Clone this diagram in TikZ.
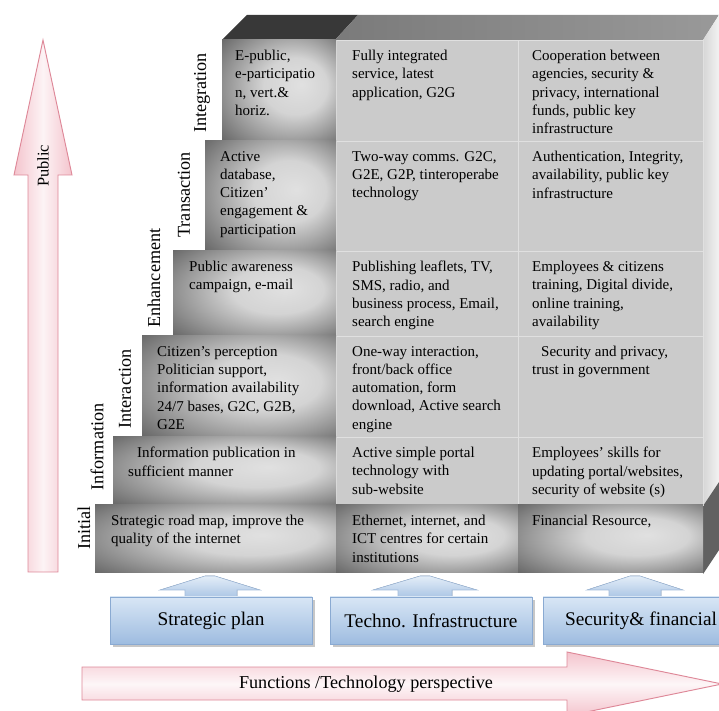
\documentclass[tikz,border=0pt]{standalone}
\usepackage{fontspec}
\setmainfont{Liberation Serif}
\usepackage{tikz}
\usetikzlibrary{calc}
\usepackage{xcolor}

\definecolor{pinkline}{RGB}{222,136,152}
\definecolor{pinkfill}{RGB}{244,196,205}
\definecolor{blueline}{RGB}{138,170,210}
\definecolor{bluetop}{RGB}{216,230,245}
\definecolor{bluebot}{RGB}{158,188,224}
\definecolor{cellgray}{RGB}{203,203,203}

\pgfdeclareradialshading{cellshade}{\pgfpoint{10bp}{3bp}}{color(0bp)=(black!12); color(14bp)=(black!17); color(28bp)=(black!42); color(40bp)=(black!64); color(50bp)=(black!66)}

\tikzset{
  celltext/.style={anchor=north west, align=left, inner sep=0pt, font=\fontsize{12.8}{15.6}\selectfont},
  stagelabel/.style={rotate=90, inner sep=0pt, font=\fontsize{15.5}{18}\selectfont},
  darkcell/.style={shading=cellshade},
  litecell/.style={fill=cellgray, draw=black!12, line width=0.6pt},
  bluebox/.style={top color=bluetop, bottom color=bluebot, draw=blueline, line width=0.6pt},
  bluearrow/.style={top color=bluetop!70!white, bottom color=bluebot!80!bluetop, draw=blueline!80!white, line width=0.5pt},
  pinkarrow/.style={draw=pinkline, line width=0.8pt},
  boxtext/.style={font=\fontsize{16.5}{19}\selectfont},
}

\begin{document}
\begin{tikzpicture}[x=0.03cm,y=-0.03cm]
\useasboundingbox (0,0) rectangle (719,711);

% pink arrows
\shade[pinkarrow, left color=pinkfill, right color=pinkfill, middle color=white!80!pinkfill]
  (28,572) -- (28,175) -- (14,175) -- (43,40) -- (72,175) -- (58,175) -- (58,572) -- cycle;
\node[rotate=90, font=\fontsize{14}{16}\selectfont] (public) at (43,166) {Public};

\shade[pinkarrow, top color=pinkfill, bottom color=pinkfill, middle color=white!85!pinkfill]
  (82,667) -- (567,667) -- (567,652) -- (722,684) -- (567,716) -- (567,700) -- (82,700) -- cycle;
\node[font=\fontsize{15.5}{18}\selectfont] (funcs) at (366,684) {Functions /Technology perspective};

% top and side of the block
\fill[black!78] (222,40) -- (247,15) -- (358,15) -- (335,40) -- cycle;
\shade[left color=black!52, right color=black!40] (335,40) -- (358,15) -- (719,15) -- (703,40) -- cycle;
\shade[left color=black!16, right color=black!5] (703,40) -- (719,15) -- (719,550) -- (703,574) -- cycle;
\fill[black!62] (703,506) -- (719,482) -- (719,550) -- (703,574) -- cycle;

% light cells
\filldraw[litecell] (336,40) rectangle (518,141);
\filldraw[litecell] (518,40) rectangle (703,141);
\filldraw[litecell] (336,141) rectangle (518,251);
\filldraw[litecell] (518,141) rectangle (703,251);
\filldraw[litecell] (336,251) rectangle (518,336);
\filldraw[litecell] (518,251) rectangle (703,336);
\filldraw[litecell] (336,336) rectangle (518,437);
\filldraw[litecell] (518,336) rectangle (703,437);
\filldraw[litecell] (336,437) rectangle (518,505);
\filldraw[litecell] (518,437) rectangle (703,505);

% dark cells
\shade[darkcell] (222,40) rectangle (336,141);
\shade[darkcell] (205,141) rectangle (336,251);
\shade[darkcell] (173,251) rectangle (336,336);
\shade[darkcell] (142,336) rectangle (336,437);
\shade[darkcell] (113,437) rectangle (336,505);
\shade[darkcell] (95,505) rectangle (336,573);
\shade[darkcell] (336,505) rectangle (518,573);
\shade[darkcell] (518,505) rectangle (703,573);

% stage labels
\node[stagelabel] (lint) at (202,93) {Integration};
\node[stagelabel] (ltra) at (184,195) {Transaction};
\node[stagelabel] (lenh) at (154,278) {Enhancement};
\node[stagelabel] (linter) at (125,389) {Interaction};
\node[stagelabel] (linfo) at (97,447) {Information};
\node[stagelabel] (lini) at (84,528) {Initial};

% first column
\node[celltext] (int1) at (235,50) {E-public,\\e-participatio\\n, vert.\&\\horiz.};
\node[celltext] (tra1) at (220,151) {Active\\database,\\Citizen'\\engagement \&\\participation};
\node[celltext] (enh1) at (189,261) {Public awareness\\campaign, e-mail};
\node[celltext] (inter1) at (157,346) {Citizen's perception\\Politician support,\\information availability\\24/7 bases, G2C, G2B,\\G2E};
\node[celltext] (info1) at (128,447) {\hspace*{0.6em}Information publication in\\sufficient manner};
\node[celltext] (ini1) at (111,515) {Strategic road map, improve the\\quality of the internet};

% second column
\node[celltext] (int2) at (352,50) {Fully integrated\\service, latest\\application, G2G};
\node[celltext] (tra2) at (352,151) {Two-way comms. G2C,\\G2E, G2P, tinteroperabe\\technology};
\node[celltext] (enh2) at (352,261) {Publishing leaflets, TV,\\SMS, radio, and\\business process, Email,\\search engine};
\node[celltext] (inter2) at (352,346) {One-way interaction,\\front/back office\\automation, form\\download, Active search\\engine};
\node[celltext] (info2) at (352,447) {Active simple portal\\technology with\\sub-website};
\node[celltext] (ini2) at (352,515) {Ethernet, internet, and\\ICT centres for certain\\institutions};

% third column
\node[celltext] (int3) at (532,50) {Cooperation between\\agencies, security \&\\privacy, international\\funds, public key\\infrastructure};
\node[celltext] (tra3) at (532,151) {Authentication, Integrity,\\availability, public key\\infrastructure};
\node[celltext] (enh3) at (532,261) {Employees \& citizens\\training, Digital divide,\\online training,\\availability};
\node[celltext] (inter3) at (532,346) {\hspace*{0.6em}Security and privacy,\\trust in government};
\node[celltext] (info3) at (532,447) {Employees' skills for\\updating portal/websites,\\security of website (s)};
\node[celltext] (ini3) at (532,515) {Financial Resource,};

% blue arrows and boxes
\filldraw[bluearrow] (160,590) -- (205,576) -- (215,576) -- (260,590) -- (237,590) -- (237,598) -- (185,598) -- (185,590) -- cycle;
\filldraw[bluearrow] (373,590) -- (420,576) -- (430,576) -- (477,590) -- (452,590) -- (452,598) -- (398,598) -- (398,590) -- cycle;
\filldraw[bluearrow] (587,590) -- (630,576) -- (640,576) -- (683,590) -- (661,590) -- (661,598) -- (609,598) -- (609,590) -- cycle;

\fill[black!22] (113,600) rectangle (315,647);
\fill[black!22] (333,600) rectangle (535,647);
\fill[black!22] (546,600) rectangle (722,647);
\filldraw[bluebox] (110,597) rectangle (312,644);
\filldraw[bluebox] (330,597) rectangle (532,644);
\filldraw[bluebox] (543,597) rectangle (722,644);

\node[boxtext] (plan) at (211,621) {Strategic plan};
\node[boxtext] (infra) at (431,621) {Techno. Infrastructure};
\node[boxtext] (secfin) at (641,621) {Security\& financial};

\end{tikzpicture}
\end{document}
